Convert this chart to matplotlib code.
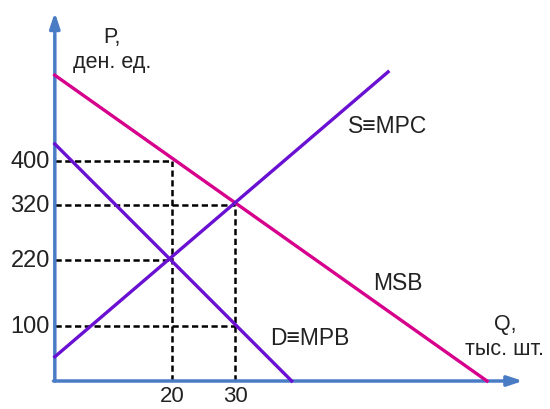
import matplotlib.pyplot as plt

# curve endpoints (Q, P)
msb_q = [1.4, 70.0]
msb_p = [556, 0]
mpc_q = [1.4, 54.3]
mpc_p = [44, 562]
mpb_q = [1.4, 39.0]
mpb_p = [431, 0]

# guide levels: (Q, P) points marked with dashed lines
guide_q = [20, 30, 20, 30]
guide_p = [400, 320, 220, 100]

p_ticks = [400, 320, 220, 100]
q_ticks = [20, 30]

axis_color = '#4a7cc6'
magenta = '#d6008c'
purple = '#6a10d2'
text_color = '#222222'
font = 'Liberation Sans'

fig = plt.figure(figsize=(5.5, 4.1), dpi=100)
ax = fig.add_axes([0, 0, 1, 1])
# pixel mapping: x_px = 46 + 6.3*Q, y_px = 382 - 0.55*P
ax.set_xlim(-46 / 6.3, (550 - 46) / 6.3)
ax.set_ylim((382 - 410) / 0.55, 382 / 0.55)
ax.axis('off')

q0 = 1.4  # position of the P axis

# axes with arrows
ax.annotate('', xy=(q0, 670), xytext=(q0, 0),
            arrowprops=dict(arrowstyle='-|>,head_length=0.9,head_width=0.3',
                            color=axis_color, lw=2.5, shrinkA=0, shrinkB=0))
ax.annotate('', xy=(75.7, 0), xytext=(q0 - 0.2, 0),
            arrowprops=dict(arrowstyle='-|>,head_length=0.9,head_width=0.3',
                            color=axis_color, lw=2.5, shrinkA=0, shrinkB=0))

# dashed guides
for q, p in zip(guide_q, guide_p):
    ax.plot([q0, q], [p, p], color='black', lw=1.8, ls=(0, (2.5, 1.4)),
            zorder=2)
for q in q_ticks:
    p = max(pp for qq, pp in zip(guide_q, guide_p) if qq == q)
    ax.plot([q, q], [0, p], color='black', lw=1.8, ls=(0, (2.5, 1.4)),
            zorder=2)

# curves
ax.plot(msb_q, msb_p, color=magenta, lw=2.4, zorder=3)
ax.plot(mpc_q, mpc_p, color=purple, lw=2.4, zorder=3)
ax.plot(mpb_q, mpb_p, color=purple, lw=2.4, zorder=3)

# tick labels
for p in p_ticks:
    ax.text(q0 - 0.8, p, str(p), ha='right', va='center', fontsize=17,
            family=font, color=text_color)
for q in q_ticks:
    ax.text(q, -27, str(q), ha='center', va='center', fontsize=16,
            family=font, color=text_color)

# axis titles and curve labels
ax.text((112 - 46) / 6.3, (382 - 50) / 0.55, 'P,\nден. ед.', ha='center',
        va='center', fontsize=15.5, family=font, color=text_color,
        linespacing=1.2)
ax.text((505 - 46) / 6.3, (382 - 337) / 0.55, 'Q,\nтыс. шт.', ha='center',
        va='center', fontsize=15.5, family=font, color=text_color,
        linespacing=1.2)
ax.text((388 - 46) / 6.3, (382 - 127) / 0.55, 'S\u2261MPC', ha='center',
        va='center', fontsize=16.5, family=font, color=text_color)
ax.text((398 - 46) / 6.3, (382 - 283) / 0.55, 'MSB', ha='center',
        va='center', fontsize=16.5, family=font, color=text_color)
ax.text((310 - 46) / 6.3, (382 - 339) / 0.55, 'D\u2261MPB', ha='center',
        va='center', fontsize=16.5, family=font, color=text_color)

fig.savefig('out.png', dpi=100)
